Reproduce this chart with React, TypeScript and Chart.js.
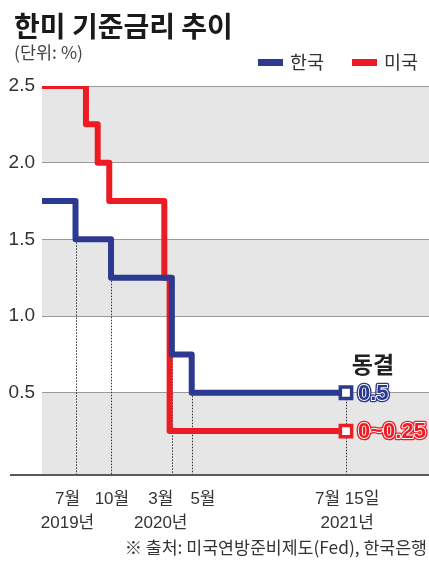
import React, { useEffect, useRef } from "react";
import { Chart, registerables } from "chart.js";

Chart.register(...registerables);

// ---- data (x = months since Jan 2019) ----
const koreaMonths = [3.5, 6.52, 9.72, 15.2, 16.99, 30.89];
const koreaRates = [1.75, 1.5, 1.25, 0.75, 0.5, 0.5];
const usMonths = [3.5, 7.46, 8.52, 9.56, 14.52, 15.0, 30.89];
const usRates = [2.5, 2.25, 2.0, 1.75, 1.25, 0.25, 0.25];
const yTicks = [0.5, 1.0, 1.5, 2.0, 2.5];
const xTickMonths = [5.8, 9.8, 14.2, 18.0, 31.0];
const xTickLabels = [["7월", "2019년"], ["10월"], ["3월", "2020년"], ["5월"], ["7월 15일", "2021년"]];
const seriesNames = ["한국", "미국"];
const endLabels = ["0.5", "0~0.25"];
const freezeLabel = "동결";
const titleText = "한미 기준금리 추이";
const unitText = "(단위: %)";
const sourceText = "※ 출처:  미국연방준비제도(Fed), 한국은행";

const BLUE = "#2b3990";
const RED = "#ed1c24";
const NARROW = "'Liberation Sans', 'Noto Sans CJK KR', sans-serif";
const KR = "'Noto Sans CJK KR', 'Noto Sans', sans-serif";

const decor = {
  id: "decor",
  beforeDraw(chart: any) {
    const { ctx, chartArea: a, scales } = chart;
    const y = scales.y;
    ctx.save();
    ctx.fillStyle = "#e6e6e6";
    const edges = [y.min, ...yTicks];
    for (let i = edges.length - 1; i > 0; i -= 2) {
      const t = y.getPixelForValue(edges[i]);
      const b = y.getPixelForValue(edges[i - 1]);
      ctx.fillRect(a.left, t, a.right - a.left, b - t);
    }
    ctx.restore();
  },
  beforeDatasetsDraw(chart: any) {
    const { ctx, chartArea: a } = chart;
    const meta = chart.getDatasetMeta(0);
    ctx.save();
    ctx.strokeStyle = "#333";
    ctx.lineWidth = 1;
    ctx.setLineDash([1.5, 1.5]);
    meta.data.forEach((p: any, i: number) => {
      if (i === 0) return;
      const x = Math.round(p.x) + 0.5;
      ctx.beginPath();
      ctx.moveTo(x, p.y);
      ctx.lineTo(x, a.bottom);
      ctx.stroke();
    });
    ctx.restore();
  },
  afterDatasetsDraw(chart: any) {
    const { ctx } = chart;
    const kMeta = chart.getDatasetMeta(0);
    const uMeta = chart.getDatasetMeta(1);
    const kp = kMeta.data[kMeta.data.length - 1];
    const up = uMeta.data[uMeta.data.length - 1];
    ctx.save();
    ctx.textBaseline = "middle";
    ctx.textAlign = "center";
    ctx.fillStyle = "#222";
    ctx.font = `bold 23px ${KR}`;
    ctx.fillText(freezeLabel, kp.x + 27, kp.y - 28);

    const outlined = (txt: string, x: number, y: number, color: string) => {
      ctx.textAlign = "left";
      ctx.font = `bold 22px ${NARROW}`;
      ctx.lineJoin = "round";
      ctx.strokeStyle = color;
      ctx.lineWidth = 4.5;
      ctx.strokeText(txt, x, y);
      ctx.strokeStyle = "#fff";
      ctx.lineWidth = 1.8;
      ctx.strokeText(txt, x, y);
      ctx.fillStyle = color;
      ctx.fillText(txt, x, y);
    };
    outlined(endLabels[0], kp.x + 12, kp.y + 1, BLUE);
    outlined(endLabels[1], up.x + 12, up.y + 1, RED);
    ctx.restore();
  },
  afterDraw(chart: any) {
    const { ctx, chartArea: a } = chart;
    ctx.save();
    ctx.strokeStyle = "#222";
    ctx.lineWidth = 1.5;
    ctx.beginPath();
    ctx.moveTo(10, a.bottom + 1);
    ctx.lineTo(chart.width, a.bottom + 1);
    ctx.stroke();
    ctx.restore();
  },
};

export default function App() {
  const ref = useRef<HTMLCanvasElement | null>(null);

  useEffect(() => {
    if (!ref.current) return;
    const lastK = koreaMonths.length - 1;
    const lastU = usMonths.length - 1;
    const chart = new Chart(ref.current, {
      type: "line",
      data: {
        datasets: [
          {
            label: seriesNames[0],
            data: koreaMonths.map((m, i) => ({ x: m, y: koreaRates[i] })),
            borderColor: BLUE,
            backgroundColor: BLUE,
            borderWidth: 6,
            stepped: true,
            borderCapStyle: "round",
            borderJoinStyle: "round",
            pointRadius: koreaMonths.map((_, i) => (i === lastK ? 8 : 0)),
            pointStyle: "rect",
            pointBackgroundColor: "#fff",
            pointBorderColor: BLUE,
            pointBorderWidth: 3.5,
            fill: false,
          },
          {
            label: seriesNames[1],
            data: usMonths.map((m, i) => ({ x: m, y: usRates[i] })),
            borderColor: RED,
            backgroundColor: RED,
            borderWidth: 6,
            stepped: true,
            borderCapStyle: "round",
            borderJoinStyle: "round",
            pointRadius: usMonths.map((_, i) => (i === lastU ? 8 : 0)),
            pointStyle: "rect",
            pointBackgroundColor: "#fff",
            pointBorderColor: RED,
            pointBorderWidth: 3.5,
            fill: false,
          },
        ],
      },
      options: {
        animation: false,
        responsive: false,
        devicePixelRatio: 1,
        layout: { autoPadding: false, padding: { top: 86, left: 0, right: 0, bottom: 0 } },
        plugins: { legend: { display: false }, tooltip: { enabled: false } },
        scales: {
          x: {
            type: "linear",
            min: 3.5,
            max: 38.37,
            grid: { display: false },
            border: { display: false },
            afterBuildTicks: (s: any) => {
              s.ticks = xTickMonths.map((v) => ({ value: v }));
            },
            afterFit: (s: any) => {
              s.height = 89;
            },
            ticks: {
              autoSkip: false,
              maxRotation: 0,
              padding: 6,
              color: "#333",
              font: { family: NARROW, size: 17, lineHeight: 1.38 },
              callback: (_v: any, i: number) => xTickLabels[i],
            },
          },
          y: {
            type: "linear",
            min: -0.03,
            max: 2.5,
            afterBuildTicks: (s: any) => {
              s.ticks = yTicks.map((v) => ({ value: v }));
            },
            afterFit: (s: any) => {
              s.width = 42;
            },
            grid: { color: "#9a9a9a", lineWidth: 1, drawTicks: false },
            border: { display: false },
            ticks: {
              padding: 7,
              color: "#333",
              font: { family: NARROW, size: 19 },
              callback: (v: any) => Number(v).toFixed(1),
            },
          },
        },
      },
      plugins: [decor],
    } as any);
    return () => chart.destroy();
  }, []);

  return (
    <div
      style={{
        position: "absolute",
        left: 0,
        top: 0,
        width: 429,
        height: 563,
        background: "#fff",
        fontFamily: KR,
        color: "#222",
        overflow: "hidden",
      }}
    >
      <canvas ref={ref} width={429} height={563} style={{ position: "absolute", left: 0, top: 0, display: "block" }} />
      <div style={{ position: "absolute", left: 14, top: 9, fontSize: 28, fontWeight: 700, lineHeight: "32px", whiteSpace: "nowrap", color: "#1a1a1a" }}>
        {titleText}
      </div>
      <div style={{ position: "absolute", left: 14, top: 41, fontSize: 17.5, lineHeight: "21px", color: "#444", whiteSpace: "nowrap" }}>
        {unitText}
      </div>
      <div style={{ position: "absolute", left: 258, top: 59, width: 25, height: 7, background: BLUE }} />
      <div style={{ position: "absolute", left: 290, top: 51, fontSize: 18.5, lineHeight: "21px", color: "#333", whiteSpace: "nowrap" }}>
        {seriesNames[0]}
      </div>
      <div style={{ position: "absolute", left: 352, top: 59, width: 25, height: 7, background: RED }} />
      <div style={{ position: "absolute", left: 384, top: 51, fontSize: 18.5, lineHeight: "21px", color: "#333", whiteSpace: "nowrap" }}>
        {seriesNames[1]}
      </div>
      <div style={{ position: "absolute", right: 2, top: 536, fontSize: 17.3, lineHeight: "21px", color: "#333", whiteSpace: "nowrap" }}>
        {sourceText}
      </div>
    </div>
  );
}
